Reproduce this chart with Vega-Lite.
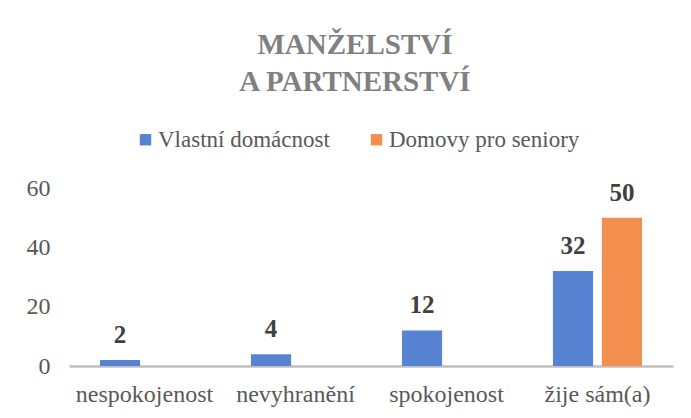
{
  "$schema": "https://vega.github.io/schema/vega-lite/v6.json",
  "autosize": "none",
  "width": 604,
  "height": 178,
  "padding": {"left": 69, "top": 188, "right": 18, "bottom": 52},
  "background": "white",
  "title": {
    "text": ["MANŽELSTVÍ", "A PARTNERSTVÍ"],
    "anchor": "middle",
    "frame": "group",
    "dx": -16,
    "offset": 31,
    "font": "Liberation Serif",
    "fontSize": 29,
    "fontWeight": "bold",
    "color": "#808080",
    "lineHeight": 37
  },
  "data": {
    "values": [
      {"kategorie": "nespokojenost", "skupina": "Vlastní domácnost", "hodnota": 2},
      {"kategorie": "nevyhranění", "skupina": "Vlastní domácnost", "hodnota": 4},
      {"kategorie": "spokojenost", "skupina": "Vlastní domácnost", "hodnota": 12},
      {"kategorie": "žije sám(a)", "skupina": "Vlastní domácnost", "hodnota": 32},
      {"kategorie": "nespokojenost", "skupina": "Domovy pro seniory", "hodnota": 0},
      {"kategorie": "nevyhranění", "skupina": "Domovy pro seniory", "hodnota": 0},
      {"kategorie": "spokojenost", "skupina": "Domovy pro seniory", "hodnota": 0},
      {"kategorie": "žije sám(a)", "skupina": "Domovy pro seniory", "hodnota": 50}
    ]
  },
  "encoding": {
    "x": {
      "field": "kategorie",
      "type": "nominal",
      "sort": ["nespokojenost", "nevyhranění", "spokojenost", "žije sám(a)"],
      "scale": {"paddingInner": 0.41, "paddingOuter": 0.205},
      "axis": {
        "title": null,
        "labelAngle": 0,
        "ticks": false,
        "labelPadding": 16,
        "domainColor": "#bfbfbf",
        "domainWidth": 2.5,
        "labelFont": "Liberation Serif",
        "labelFontSize": 24,
        "labelColor": "#595959"
      }
    },
    "xOffset": {
      "field": "skupina",
      "type": "nominal",
      "sort": ["Vlastní domácnost", "Domovy pro seniory"],
      "scale": {"paddingInner": 0.18, "paddingOuter": 0}
    },
    "y": {
      "field": "hodnota",
      "type": "quantitative",
      "scale": {"domain": [0, 60]},
      "axis": {
        "title": null,
        "values": [0, 20, 40, 60],
        "grid": false,
        "domain": false,
        "ticks": false,
        "labelPadding": 19,
        "labelFont": "Liberation Serif",
        "labelFontSize": 24,
        "labelColor": "#595959"
      }
    }
  },
  "layer": [
    {
      "mark": {"type": "bar"},
      "encoding": {
        "color": {
          "field": "skupina",
          "type": "nominal",
          "scale": {"domain": ["Vlastní domácnost", "Domovy pro seniory"], "range": ["#5882d2", "#f28f4e"]},
          "legend": {
            "title": null,
            "orient": "none",
            "direction": "horizontal",
            "legendX": 65,
            "legendY": -60,
            "symbolType": "square",
            "symbolSize": 130,
            "symbolStrokeWidth": 0,
            "labelOffset": 1,
            "columnPadding": 35,
            "labelFont": "Liberation Serif",
            "labelFontSize": 23,
            "labelColor": "#595959",
            "labelLimit": 400
          }
        }
      }
    },
    {
      "transform": [{"filter": "datum.hodnota > 0"}],
      "mark": {
        "type": "text",
        "baseline": "alphabetic",
        "dy": -17,
        "font": "Liberation Serif",
        "fontSize": 25,
        "fontWeight": "bold",
        "color": "#404040"
      },
      "encoding": {
        "text": {"field": "hodnota", "type": "quantitative"}
      }
    }
  ],
  "config": {"view": {"stroke": null}}
}
